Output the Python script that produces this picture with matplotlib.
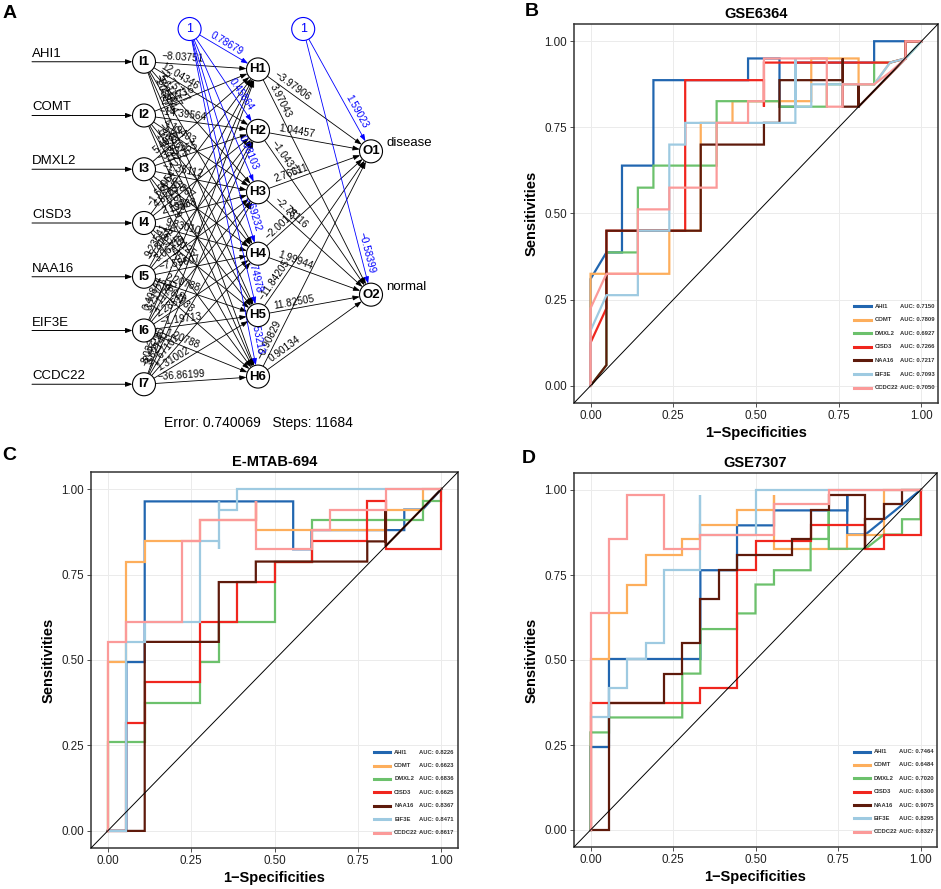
import numpy as np
import matplotlib
matplotlib.use("Agg")
import matplotlib.pyplot as plt
from matplotlib.patches import Circle

plt.rcParams['font.family'] = ['Liberation Sans', 'DejaVu Sans']

W_PX, H_PX = 941, 889

GENES = ["AHI1", "COMT", "DMXL2", "CISD3", "NAA16", "EIF3E", "CCDC22"]
COLORS = ['#2166b0', '#fdae5c', '#6cc16c', '#f0261e', '#5e1a0b', '#9ecae1', '#fb9a99']

# ---------------- panel A: neural network weights ----------------
OUTPUTS = ["disease", "normal"]
W_IN_HID = [
    [-8.03751, 12.04346, -2.75727, 5.61757, -3.21944, 1.08873],
    [2.42716, -14.39564, 4.19403, -5.08675, 0.97822, -1.66412],
    [5.40382, -3.27455, -1.35112, 2.93867, 1.41608, -0.75119],
    [-1.66054, 4.82031, 2.19588, 9.83010, -2.46125, 1.71452],
    [9.23541, -5.81376, 3.06219, -7.59607, 2.20788, -0.64933],
    [0.40844, 3.21125, -1.11780, 2.28519, -1.19713, 1.20788],
    [8.03271, -2.45296, 3.62140, -1.67102, 1.31002, -36.86199],
]
W_BIAS_HID = [0.78679, 0.45864, 0.98103, 0.69232, 0.74978, 0.53213]
W_HID_O1 = [-3.97906, 1.04457, 2.76611, -2.00124, -11.84205, -0.90829]
W_HID_O2 = [3.97043, -1.04377, -2.76116, 1.99944, 11.82505, 0.90134]
W_BIAS_OUT = [1.59023, -0.58399]
NN_ERROR = 0.740069
NN_STEPS = 11684

# ---------------- ROC paths (1-specificity, sensitivity) ----------------
GSE6364_CURVES = [
    [(0, 0), (0, 0.31), (0.048, 0.387), (0.095, 0.387), (0.095, 0.639), (0.19, 0.639), (0.19, 0.887),
     (0.476, 0.887), (0.476, 0.95), (0.571, 0.95), (0.571, 0.81), (0.619, 0.81), (0.619, 0.938),
     (0.857, 0.938), (0.857, 1.0), (1, 1)],
    [(0, 0), (0, 0.325), (0.238, 0.325), (0.238, 0.45), (0.333, 0.45), (0.333, 0.763), (0.429, 0.763),
     (0.429, 0.826), (0.667, 0.826), (0.667, 0.95), (0.81, 0.95), (0.81, 0.875), (0.857, 0.875),
     (0.905, 0.938), (0.952, 0.95), (0.952, 1.0), (1, 1)],
    [(0, 0), (0.048, 0.06), (0.048, 0.387), (0.143, 0.387), (0.143, 0.575), (0.19, 0.575), (0.19, 0.639),
     (0.381, 0.639), (0.381, 0.826), (0.571, 0.826), (0.571, 0.81), (0.714, 0.81), (0.714, 0.875),
     (0.857, 0.875), (0.857, 0.938), (0.905, 0.938), (0.952, 0.95), (1, 1)],
    [(0, 0), (0, 0.125), (0.048, 0.225), (0.048, 0.45), (0.286, 0.45), (0.286, 0.887), (0.524, 0.887),
     (0.524, 0.81), (0.524, 0.938), (0.905, 0.938), (0.952, 0.95), (0.952, 1.0), (1, 1)],
    [(0, 0), (0.048, 0.06), (0.048, 0.45), (0.333, 0.45), (0.333, 0.70), (0.524, 0.70), (0.524, 0.763),
     (0.571, 0.763), (0.571, 0.887), (0.762, 0.887), (0.762, 0.95), (0.762, 0.81), (0.81, 0.81),
     (0.81, 0.875), (0.81, 0.81), (0.952, 0.95), (0.952, 1.0), (1, 1)],
    [(0, 0), (0, 0.16), (0.048, 0.263), (0.143, 0.263), (0.143, 0.45), (0.238, 0.45), (0.238, 0.70),
     (0.286, 0.70), (0.286, 0.763), (0.619, 0.763), (0.619, 0.95), (0.619, 0.81), (0.667, 0.81),
     (0.667, 0.875), (0.857, 0.875), (0.905, 0.938), (0.952, 0.95), (1, 1)],
    [(0, 0), (0, 0.225), (0.048, 0.325), (0.143, 0.325), (0.143, 0.512), (0.238, 0.512), (0.238, 0.575),
     (0.381, 0.575), (0.381, 0.763), (0.476, 0.763), (0.476, 0.826), (0.524, 0.826), (0.524, 0.95),
     (0.714, 0.95), (0.714, 0.81), (0.762, 0.81), (0.762, 0.875), (0.857, 0.875), (0.905, 0.91),
     (0.952, 0.95), (0.952, 1.0), (1, 1)],
]
GSE6364_AUC = [0.7150, 0.7809, 0.6927, 0.7266, 0.7217, 0.7093, 0.7050]

EMTAB694_CURVES = [
    [(0, 0), (0.056, 0), (0.056, 0.494), (0.111, 0.494), (0.111, 0.964), (0.556, 0.964), (0.556, 0.824),
     (0.611, 0.824), (0.611, 0.88), (0.889, 0.88), (0.889, 0.94), (0.944, 0.94), (1, 1)],
    [(0, 0), (0, 0.494), (0.056, 0.494), (0.056, 0.788), (0.111, 0.788), (0.111, 0.847), (0.278, 0.847),
     (0.278, 0.91), (0.444, 0.91), (0.444, 0.964), (0.444, 0.88), (0.833, 0.88), (0.833, 0.94),
     (0.944, 0.94), (0.944, 1.0), (1, 1)],
    [(0, 0), (0, 0.259), (0.111, 0.259), (0.111, 0.375), (0.278, 0.375), (0.278, 0.494), (0.333, 0.494),
     (0.333, 0.611), (0.5, 0.611), (0.5, 0.728), (0.5, 0.788), (0.611, 0.788), (0.611, 0.91),
     (0.944, 0.91), (0.944, 0.964), (1, 0.964), (1, 1)],
    [(0, 0), (0.056, 0), (0.056, 0.317), (0.111, 0.317), (0.111, 0.436), (0.278, 0.436), (0.278, 0.611),
     (0.389, 0.611), (0.389, 0.728), (0.5, 0.728), (0.5, 0.788), (0.611, 0.788), (0.611, 0.847),
     (0.778, 0.847), (0.778, 0.964), (0.833, 0.964), (0.833, 0.824), (1, 0.824), (1, 1)],
    [(0, 0), (0.111, 0), (0.111, 0.553), (0.333, 0.553), (0.333, 0.728), (0.444, 0.728), (0.444, 0.788),
     (0.778, 0.788), (0.778, 0.847), (0.833, 0.847), (0.833, 0.94), (0.833, 0.833), (1, 1)],
    [(0, 0), (0.056, 0), (0.056, 0.553), (0.111, 0.553), (0.111, 0.611), (0.278, 0.611), (0.278, 0.847),
     (0.333, 0.847), (0.333, 0.824), (0.333, 0.964), (0.333, 0.94), (0.389, 0.94), (0.389, 1.0), (1, 1)],
    [(0, 0), (0, 0.553), (0.056, 0.553), (0.056, 0.611), (0.222, 0.611), (0.222, 0.847), (0.278, 0.847),
     (0.278, 0.91), (0.444, 0.91), (0.444, 0.964), (0.444, 0.824), (0.611, 0.824), (0.611, 0.88),
     (0.667, 0.88), (0.667, 0.94), (0.833, 0.94), (0.833, 1.0), (1, 1)],
]
EMTAB694_AUC = [0.8226, 0.6623, 0.6836, 0.6625, 0.8367, 0.8471, 0.8617]

GSE7307_CURVES = [
    [(0, 0), (0, 0.244), (0.056, 0.244), (0.056, 0.503), (0.333, 0.503), (0.333, 0.764), (0.444, 0.764),
     (0.444, 0.896), (0.556, 0.896), (0.556, 0.94), (0.778, 0.94), (0.778, 0.984), (0.778, 0.869),
     (0.833, 0.869), (1, 1)],
    [(0, 0), (0, 0.503), (0.056, 0.503), (0.056, 0.637), (0.111, 0.637), (0.111, 0.722), (0.167, 0.722),
     (0.167, 0.809), (0.278, 0.809), (0.278, 0.856), (0.333, 0.856), (0.333, 0.896), (0.444, 0.896),
     (0.444, 0.94), (0.556, 0.94), (0.556, 0.984), (0.556, 0.827), (0.778, 0.827), (0.778, 0.869),
     (0.889, 0.869), (0.889, 1.0), (1, 1)],
    [(0, 0), (0, 0.287), (0.056, 0.287), (0.056, 0.331), (0.278, 0.331), (0.278, 0.46), (0.333, 0.46),
     (0.333, 0.591), (0.444, 0.591), (0.444, 0.637), (0.5, 0.637), (0.5, 0.722), (0.556, 0.722),
     (0.556, 0.764), (0.667, 0.764), (0.667, 0.856), (0.722, 0.856), (0.722, 0.94), (0.722, 0.827),
     (0.833, 0.827), (0.889, 0.869), (0.944, 0.869), (0.944, 0.914), (1, 0.914), (1, 1)],
    [(0, 0), (0, 0.374), (0.333, 0.374), (0.333, 0.418), (0.444, 0.418), (0.444, 0.764), (0.5, 0.764),
     (0.5, 0.851), (0.667, 0.851), (0.667, 0.896), (0.833, 0.896), (0.833, 0.827), (0.889, 0.827),
     (0.889, 0.869), (1, 0.869), (1, 1)],
    [(0, 0), (0.056, 0), (0.056, 0.374), (0.222, 0.374), (0.222, 0.46), (0.278, 0.46), (0.278, 0.549),
     (0.333, 0.549), (0.333, 0.678), (0.389, 0.678), (0.389, 0.764), (0.444, 0.764), (0.444, 0.809),
     (0.611, 0.809), (0.611, 0.856), (0.667, 0.856), (0.667, 0.94), (0.722, 0.94), (0.722, 0.984),
     (0.833, 0.984), (0.833, 0.827), (0.833, 0.914), (0.889, 0.914), (0.889, 0.959), (0.944, 0.959),
     (0.944, 1.0), (1, 1)],
    [(0, 0), (0, 0.331), (0.056, 0.331), (0.056, 0.418), (0.111, 0.418), (0.111, 0.503), (0.167, 0.503),
     (0.167, 0.549), (0.222, 0.549), (0.222, 0.764), (0.333, 0.764), (0.333, 0.984), (0.333, 0.869),
     (0.5, 0.869), (0.5, 1.0), (1, 1)],
    [(0, 0), (0, 0.637), (0.056, 0.637), (0.056, 0.856), (0.111, 0.856), (0.111, 0.984), (0.222, 0.984),
     (0.222, 0.827), (0.333, 0.827), (0.333, 0.869), (0.556, 0.869), (0.556, 0.959), (0.722, 0.959),
     (0.722, 1.0), (1, 1)],
]
GSE7307_AUC = [0.7464, 0.6484, 0.7020, 0.6300, 0.9075, 0.8295, 0.8327]


def px_axes(fig, left, top, right, bottom):
    return fig.add_axes([left / W_PX, 1 - bottom / H_PX, (right - left) / W_PX, (bottom - top) / H_PX])


fig = plt.figure(figsize=(W_PX / 100, H_PX / 100), dpi=100)

# ======================= panel A =======================
axA = px_axes(fig, 0, 0, 480, 430)
axA.set_xlim(0, 480)
axA.set_ylim(430, 0)
axA.axis('off')

R = 11.5
X_IN, X_HID, X_OUT = 144, 258, 371
SPAN_TOP, SPAN = 8, 430


def layer_y(n):
    return [SPAN_TOP + (k + 1) * SPAN / (n + 1) for k in range(n)]


y_in = layer_y(len(GENES))
y_hid = layer_y(len(W_BIAS_HID))
y_out = layer_y(len(OUTPUTS))
bias1 = (X_IN + 0.4 * (X_HID - X_IN), 29)
bias2 = (X_HID + 0.4 * (X_OUT - X_HID), 29)


def edge(p, q, w, color, from_target=False, dist=38):
    p, q = np.array(p, float), np.array(q, float)
    d = q - p
    L = np.hypot(*d)
    u = d / L
    start, end = p + u * R, q - u * R
    axA.annotate('', xy=end, xytext=start,
                 arrowprops=dict(arrowstyle='-|>,head_length=0.5,head_width=0.18', color=color,
                                 lw=0.6, shrinkA=0, shrinkB=0, mutation_scale=8))
    pos = q - u * dist if from_target else p + u * dist
    ang = -np.degrees(np.arctan2(d[1], d[0]))
    nrm = np.array([u[1], -u[0]])  # perpendicular, upwards on screen
    pos = pos + nrm * 1.5
    axA.text(pos[0], pos[1], f"{w:.5f}".replace('-', '\u2212'), fontsize=7.2, color=color,
             rotation=ang, rotation_mode='anchor', ha='center', va='bottom')


for i, yi in enumerate(y_in):
    for j, yj in enumerate(y_hid):
        edge((X_IN, yi), (X_HID, yj), W_IN_HID[i][j], 'black')
for j, yj in enumerate(y_hid):
    edge((X_HID, yj), (X_OUT, y_out[0]), W_HID_O1[j], 'black')
    edge((X_HID, yj), (X_OUT, y_out[1]), W_HID_O2[j], 'black')
for j, yj in enumerate(y_hid):
    edge(bias1, (X_HID, yj), W_BIAS_HID[j], '#0000ff', from_target=True, dist=40)
for k, yk in enumerate(y_out):
    edge(bias2, (X_OUT, yk), W_BIAS_OUT[k], '#0000ff', from_target=True, dist=42)

for i, (g, yi) in enumerate(zip(GENES, y_in)):
    axA.annotate('', xy=(X_IN - R, yi), xytext=(32, yi),
                 arrowprops=dict(arrowstyle='-|>,head_length=0.5,head_width=0.18', color='black',
                                 lw=0.7, shrinkA=0, shrinkB=0, mutation_scale=8))
    axA.text(32, yi - 2, g, fontsize=9.5, ha='left', va='bottom')
    axA.add_patch(Circle((X_IN, yi), R, facecolor='white', edgecolor='black', lw=0.8, zorder=3))
    axA.text(X_IN, yi, f"I{i + 1}", fontsize=9.5, fontweight='bold', ha='center', va='center', zorder=4)

for j, yj in enumerate(y_hid):
    axA.add_patch(Circle((X_HID, yj), R, facecolor='white', edgecolor='black', lw=0.8, zorder=3))
    axA.text(X_HID, yj, f"H{j + 1}", fontsize=9.5, fontweight='bold', ha='center', va='center', zorder=4)

for k, (name, yk) in enumerate(zip(OUTPUTS, y_out)):
    axA.annotate('', xy=(485, yk), xytext=(X_OUT + R, yk),
                 arrowprops=dict(arrowstyle='-|>,head_length=0.5,head_width=0.18', color='black',
                                 lw=0.7, shrinkA=0, shrinkB=0, mutation_scale=8))
    axA.text(X_OUT + R + 4, yk - 2, name, fontsize=9.5, ha='left', va='bottom')
    axA.add_patch(Circle((X_OUT, yk), R, facecolor='white', edgecolor='black', lw=0.8, zorder=3))
    axA.text(X_OUT, yk, f"O{k + 1}", fontsize=9.5, fontweight='bold', ha='center', va='center', zorder=4)

for b in (bias1, bias2):
    axA.add_patch(Circle(b, R, facecolor='white', edgecolor='#0000ff', lw=0.8, zorder=3))
    axA.text(b[0], b[1], "1", fontsize=9, color='#0000ff', ha='center', va='center', zorder=4)

axA.text(258, 423, f"Error: {NN_ERROR}   Steps: {NN_STEPS}", fontsize=10, ha='center', va='center')


# ======================= ROC panels =======================
def roc_panel(ax, title, curves, aucs):
    for col, pts in zip(COLORS, curves):
        xs = [p[0] for p in pts]
        ys = [p[1] for p in pts]
        ax.plot(xs, ys, color=col, lw=1.6, solid_joinstyle='miter', zorder=2)
    ax.axline((0, 0), (1, 1), color='black', lw=0.7, zorder=3)
    ax.set_xlim(-0.05, 1.05)
    ax.set_ylim(-0.05, 1.05)
    ticks = [0, 0.25, 0.5, 0.75, 1.0]
    ax.set_xticks(ticks)
    ax.set_yticks(ticks)
    ax.set_xticklabels([f"{t:.2f}" for t in ticks])
    ax.set_yticklabels([f"{t:.2f}" for t in ticks])
    ax.grid(True, color='#ebebeb', lw=0.7)
    ax.set_axisbelow(True)
    for s in ax.spines.values():
        s.set_color('#333333')
        s.set_linewidth(1.1)
    ax.tick_params(length=3, width=0.6, color='#333333', labelcolor='#222222', labelsize=8.4, pad=2)
    ax.set_title(title, fontsize=10.5, fontweight='bold', pad=4)
    ax.set_xlabel('1\u2212Specificities', fontsize=10.5, fontweight='bold', labelpad=3)
    ax.set_ylabel('Sensitivities', fontsize=10.5, fontweight='bold', labelpad=4)
    # legend, drawn by hand so the AUC column lines up
    for k, (g, col, a) in enumerate(zip(GENES, COLORS, aucs)):
        yy = 0.255 - k * 0.0357
        ax.plot([0.77, 0.815], [yy, yy], color=col, lw=2.2, transform=ax.transAxes, zorder=4)
        ax.text(0.826, yy, g, fontsize=4.2, fontweight='bold', color='#333333',
                transform=ax.transAxes, va='center', ha='left', zorder=4)
        ax.text(0.895, yy, f"AUC: {a:.4f}", fontsize=4.2, fontweight='bold', color='#333333',
                transform=ax.transAxes, va='center', ha='left', zorder=4)


axB = px_axes(fig, 574, 24, 938, 403)
roc_panel(axB, 'GSE6364', GSE6364_CURVES, GSE6364_AUC)
axC = px_axes(fig, 91, 472, 458, 848)
roc_panel(axC, 'E-MTAB-694', EMTAB694_CURVES, EMTAB694_AUC)
axD = px_axes(fig, 574, 473, 937, 847)
roc_panel(axD, 'GSE7307', GSE7307_CURVES, GSE7307_AUC)

for letter, x, y in [('A', 10, 14), ('B', 532, 11), ('C', 9, 455), ('D', 529, 459)]:
    fig.text(x / W_PX, 1 - y / H_PX, letter, fontsize=14, fontweight='bold', ha='center', va='center')

fig.savefig('out.png', dpi=100)
